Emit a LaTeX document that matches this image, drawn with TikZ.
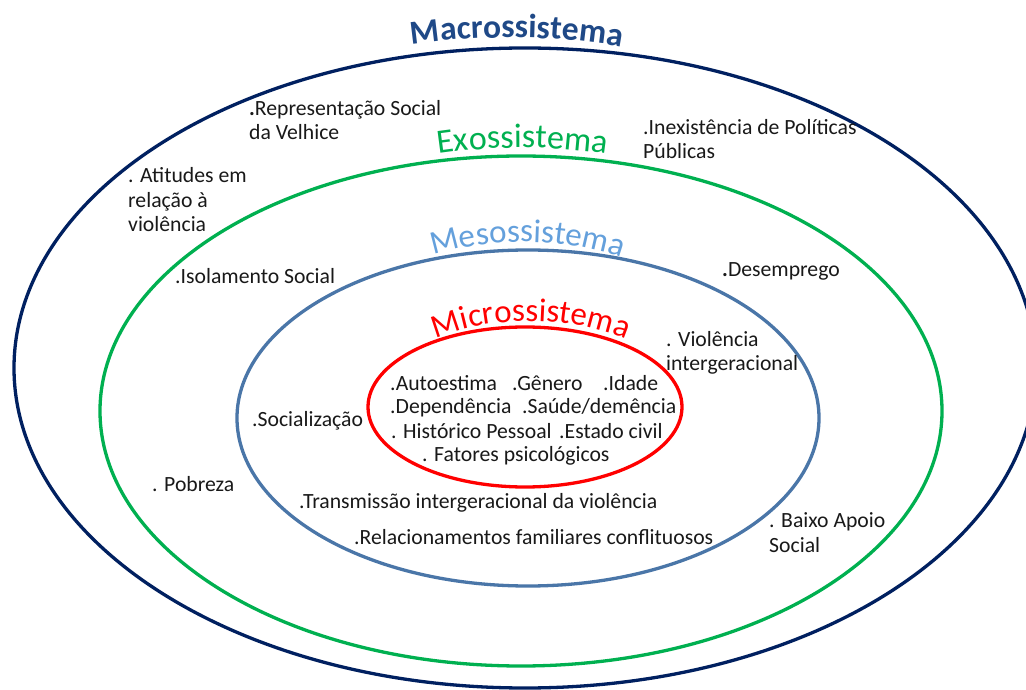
\documentclass[tikz,border=0pt]{standalone}
\usepackage{fontspec}
\setmainfont{Carlito}
\usetikzlibrary{decorations.text}
\definecolor{navyring}{RGB}{0,32,96}
\definecolor{greenring}{RGB}{0,176,80}
\definecolor{steelring}{RGB}{74,118,168}
\definecolor{redring}{RGB}{255,0,0}
\definecolor{macrotxt}{RGB}{31,73,135}
\definecolor{mesotxt}{RGB}{100,160,220}
\definecolor{txt}{RGB}{25,25,25}
\begin{document}
\begin{tikzpicture}[x=1pt,y=1pt,
  lbl/.style={anchor=base west, inner sep=0pt, font=\fontsize{21.7}{24.5}\selectfont, text=txt, align=left},
  ring/.style={line width=3.3pt}]
\useasboundingbox (0,0) rectangle (1026,689);
\fill[white] (0,0) rectangle (1026,689);
\begin{scope}
\clip (0,0) rectangle (1026,689);
\draw[ring, draw=navyring] (525,321) ellipse [x radius=511pt, y radius=320pt];
\draw[ring, draw=greenring] (521,278) ellipse [x radius=421pt, y radius=255pt];
\draw[ring, draw=steelring] (528,271) ellipse [x radius=291pt, y radius=168pt];
\draw[ring, draw=redring] (525,282) ellipse [x radius=157pt, y radius=80pt];
\end{scope}
% titles
\path[decorate, decoration={text along path, text align=center, text color=macrotxt,
  text={|\fontsize{33.5}{33.5}\selectfont\bfseries|Macrossistema}}]
  (396,642) .. controls (470,655) and (565,655) .. (637,639);
\path[decorate, decoration={text along path, text align=center, text color=greenring,
  text={|\fontsize{34}{34}\selectfont|Exossistema}}]
  (425,533) .. controls (490,544) and (555,544) .. (620,533);
\path[decorate, decoration={text along path, text align=center, text color=mesotxt,
  text={|\fontsize{33}{33}\selectfont|Mesossistema}}]
  (420,429) .. controls (485,453.5) and (570,453.5) .. (635,426);
\path[decorate, decoration={text along path, text align=center, text color=redring,
  text={|\fontsize{33}{33}\selectfont|Microssistema}}]
  (428,347) .. controls (488,375) and (572,375) .. (634,346);
% macro
\node[lbl] (rep) at (249,549) {{\bfseries.}Representação Social\\da Velhice};
\node[lbl] (atit) at (128,457) {. Atitudes em\\relação à\\violência};
\node[lbl] (inex) at (643,530) {.Inexistência de Políticas\\Públicas};
% exo
\node[lbl] (desem) at (722,412) {{\bfseries.}Desemprego};
\node[lbl] (isol) at (175,405) {.Isolamento Social};
\node[lbl] (pobr) at (152,197) {. Pobreza};
\node[lbl] (baixo) at (769,137) {. Baixo Apoio\\Social};
% meso
\node[lbl] (viol) at (666,318) {. Violência\\intergeracional};
\node[lbl] (soc) at (252,262) {.Socialização};
\node[lbl] (trans) at (299,181) {.Transmissão intergeracional da violência};
\node[lbl] (relac) at (354,145) {.Relacionamentos familiares conflituosos};
% micro
\node[lbl] (auto) at (390,298) {.Autoestima};
\node[lbl] (gen) at (512,298) {.Gênero};
\node[lbl] (idade) at (603,298) {.Idade};
\node[lbl] (dep) at (390,275) {.Dependência};
\node[lbl] (saude) at (522,275) {.Saúde/demência};
\node[lbl] (hist) at (391,251) {. Histórico Pessoal};
\node[lbl] (estado) at (559,251) {.Estado civil};
\node[lbl] (fat) at (422,227) {. Fatores psicológicos};
\end{tikzpicture}
\end{document}
